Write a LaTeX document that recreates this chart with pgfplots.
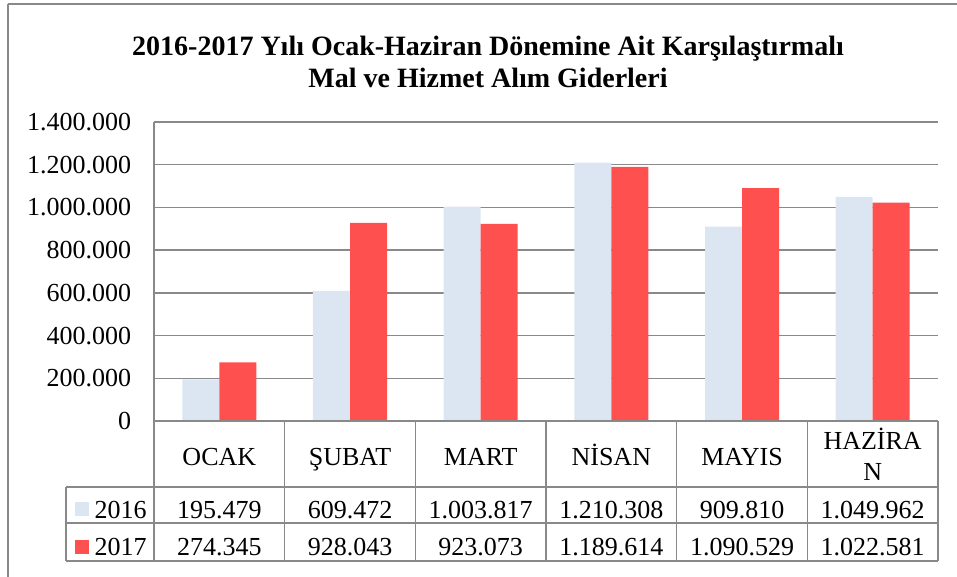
\documentclass[border=0pt]{standalone}
\usepackage{fontspec}
\setmainfont{Liberation Serif}
\usepackage{pgfplots}
\pgfplotsset{compat=1.18}
\definecolor{c16}{HTML}{DCE6F2}
\definecolor{c17}{HTML}{FF5050}
\definecolor{lineg}{HTML}{898989}

\begin{document}
\begin{tikzpicture}
\begin{scope}[x=0.75pt,y=-0.75pt]
\useasboundingbox (0,0) rectangle (957,577);
% outer chart border (only top and left visible)
\draw[lineg, line width=1.4pt] (8,4) -- (970,4);
\draw[lineg, line width=1.4pt] (8,4) -- (8,590);
% title
\node[font=\fontsize{21}{24}\selectfont\bfseries, align=center] at (488,62)
  {2016-2017 Yılı Ocak-Haziran Dönemine Ait Karşılaştırmalı\\Mal ve Hizmet Alım Giderleri};
\end{scope}

\begin{axis}[
    at={(115.5pt,-315.75pt)}, anchor=south west,
    scale only axis, width=588pt, height=224.25pt,
    ybar=0pt, bar width=27.75pt,
    xmin=-0.5, xmax=5.5,
    ymin=0, ymax=1400000,
    ytick={0,200000,400000,600000,800000,1000000,1200000,1400000},
    scaled y ticks=false,
    yticklabel style={/pgf/number format/fixed, /pgf/number format/1000 sep={.},
      /pgf/number format/assume math mode=true,
      font=\fontsize{19.5}{22}\selectfont, inner sep=0pt, anchor=east, xshift=-17pt},
    ymajorgrids, grid style={lineg, line width=1.1pt},
    axis line style={draw=none},
    major tick length=0pt,
    xtick={0,1,2,3,4,5},
    xticklabels={OCAK, ŞUBAT, MART, NİSAN, MAYIS,
      {\raisebox{-11.25pt}{\begin{tabular}[b]{@{}c@{}}HAZİRA\\N\end{tabular}}}},
    xticklabel style={font=\fontsize{19.5}{23.25}\selectfont, inner sep=0pt, anchor=base, yshift=-33pt},
    clip=false,
]
\addplot[fill=c16, draw=none] coordinates {
    (0,195479) (1,609472) (2,1003817) (3,1210308) (4,909810) (5,1049962)};
\addplot[fill=c17, draw=none] coordinates {
    (0,274345) (1,928043) (2,923073) (3,1189614) (4,1090529) (5,1022581)};
\end{axis}

\begin{scope}[x=0.75pt,y=-0.75pt]
% data table grid
\begin{scope}[lineg, line width=1.1pt]
\draw (154,122) -- (154,561);
\draw (154,421) -- (938,421);
\foreach \yy in {487,523,561} \draw (66,\yy) -- (938,\yy);
\draw (66,487) -- (66,561);
\foreach \xx in {284.7,415.3,546,676.7,807.3,938} \draw (\xx,421) -- (\xx,561);
\end{scope}

% legend keys
\fill[c16] (75,502) rectangle (89,516);
\fill[c17] (75,540) rectangle (89,554);
\begin{scope}[every node/.style={font=\fontsize{19.5}{22}\selectfont, anchor=base, inner sep=0pt}]
\node at (120.5,518) {2016};
\node at (120.5,555) {2017};
\node at (219.3,518) {195.479};
\node at (350,518) {609.472};
\node at (480.7,518) {1.003.817};
\node at (611.3,518) {1.210.308};
\node at (742,518) {909.810};
\node at (872.7,518) {1.049.962};
\node at (219.3,555) {274.345};
\node at (350,555) {928.043};
\node at (480.7,555) {923.073};
\node at (611.3,555) {1.189.614};
\node at (742,555) {1.090.529};
\node at (872.7,555) {1.022.581};
\end{scope}
\end{scope}
\end{tikzpicture}
\end{document}
